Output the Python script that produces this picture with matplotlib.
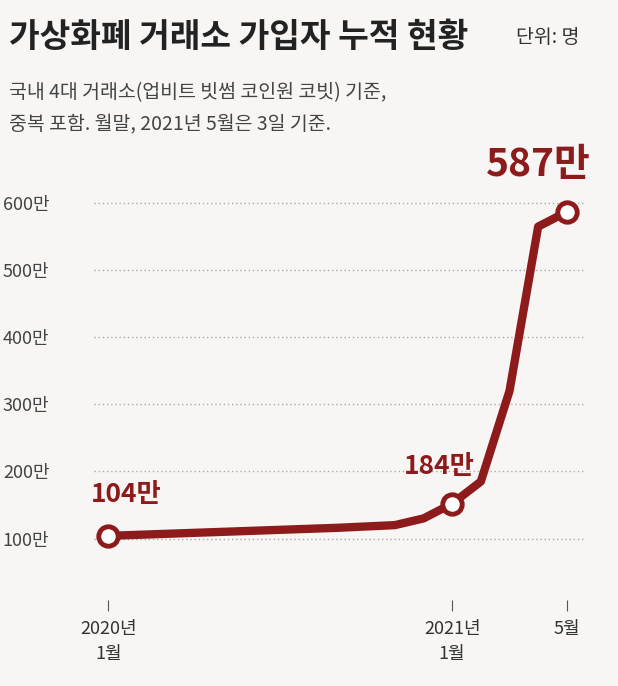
import matplotlib.pyplot as plt

plt.rcParams['font.family'] = ['Noto Sans CJK KR', 'DejaVu Sans']

# 2020년 1월 = 0 ... 2021년 5월 = 16
months = [0, 2, 4, 6, 8, 10, 11, 12, 13, 14, 15, 16]
users = [104, 107, 110, 113, 116, 120, 130, 152, 185, 320, 565, 587]
marked = [0, 12, 16]
yticks = [100, 200, 300, 400, 500, 600]
xticks = [0, 12, 16]
xlabels = ['2020년\n1월', '2021년\n1월', '5월']

red = '#8e1b1b'
bg = '#f7f6f4'

fig = plt.figure(figsize=(6.18, 6.86), dpi=100, facecolor=bg)
ax = fig.add_axes([0.152, 0.125, 0.793, 0.618], facecolor=bg)

ax.plot(months, users, color=red, lw=6, solid_capstyle='round', solid_joinstyle='round', zorder=3)
mx = [months[i] for i in range(len(months)) if months[i] in marked]
my = [users[i] for i in range(len(months)) if months[i] in marked]
ax.plot(mx, my, 'o', ms=14, mfc='white', mec=red, mew=3.5, zorder=4)

ax.set_xlim(-0.5, 16.6)
ax.set_ylim(8, 640)
ax.set_yticks(yticks)
ax.set_yticklabels([f'{v}만' for v in yticks], fontsize=13, color='#444444')
ax.set_xticks(xticks)
ax.set_xticklabels(xlabels, fontsize=13, color='#333333', linespacing=1.5)
ax.tick_params(axis='y', length=0, pad=32)
ax.tick_params(axis='x', length=8, color='#555555', pad=6)
for y in yticks:
    ax.axhline(y, color='#aaaaaa', lw=1, ls=(0, (1, 2)), zorder=1)
for s in ax.spines.values():
    s.set_visible(False)

ax.text(-0.6, 145, '104만', color=red, fontsize=19, fontweight='bold', ha='left', va='bottom')
ax.text(10.3, 188, '184만', color=red, fontsize=19, fontweight='bold', ha='left', va='bottom')
ax.text(15.0, 628, '587만', color=red, fontsize=28, fontweight='bold', ha='center', va='bottom')

fig.text(0.015, 0.945, '가상화폐 거래소 가입자 누적 현황', fontsize=24, fontweight='bold', color='#222222', va='center')
fig.text(0.835, 0.945, '단위: 명', fontsize=14, color='#333333', va='center')
fig.text(0.015, 0.865, '국내 4대 거래소(업비트 빗썸 코인원 코빗) 기준,', fontsize=14, color='#444444', va='center')
fig.text(0.015, 0.818, '중복 포함. 월말, 2021년 5월은 3일 기준.', fontsize=14, color='#444444', va='center')

fig.savefig('out.png', dpi=100, facecolor=bg)
